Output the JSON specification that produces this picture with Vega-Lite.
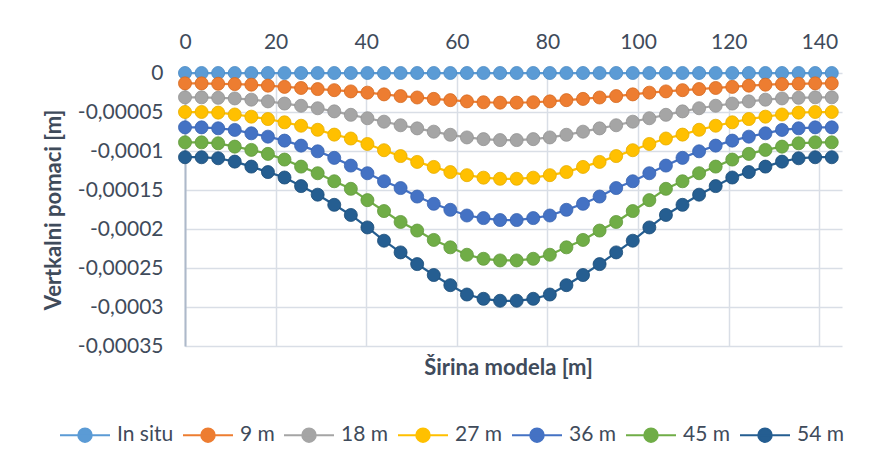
{
  "$schema": "https://vega.github.io/schema/vega-lite/v6.json",
  "width": 657,
  "height": 273,
  "autosize": {"type": "none"},
  "padding": {"left": 185, "top": 73, "right": 39, "bottom": 121},
  "background": "white",
  "config": {
    "locale": {"number": {"decimal": ",", "thousands": ".", "grouping": [3], "currency": ["", " €"], "minus": "-"}},
    "view": {"stroke": null},
    "font": "Lato"
  },
  "data": {"values": [
    {"x": 0, "In situ": 0, "9 m": -1.33e-5, "18 m": -3.12e-5, "27 m": -5.0e-5, "36 m": -6.97e-5, "45 m": -8.89e-5, "54 m": -10.8e-5},
    {"x": 3.66, "In situ": 0, "9 m": -1.33e-5, "18 m": -3.12e-5, "27 m": -5.0e-5, "36 m": -6.97e-5, "45 m": -8.89e-5, "54 m": -10.8e-5},
    {"x": 7.32, "In situ": 0, "9 m": -1.38e-5, "18 m": -3.18e-5, "27 m": -5.08e-5, "36 m": -7.09e-5, "45 m": -9.01e-5, "54 m": -10.93e-5},
    {"x": 10.98, "In situ": 0, "9 m": -1.42e-5, "18 m": -3.26e-5, "27 m": -5.32e-5, "36 m": -7.3e-5, "45 m": -9.44e-5, "54 m": -11.36e-5},
    {"x": 14.64, "In situ": 0, "9 m": -1.5e-5, "18 m": -3.42e-5, "27 m": -5.6e-5, "36 m": -7.73e-5, "45 m": -9.86e-5, "54 m": -12.0e-5},
    {"x": 18.3, "In situ": 0, "9 m": -1.62e-5, "18 m": -3.64e-5, "27 m": -5.9e-5, "36 m": -8.16e-5, "45 m": -10.37e-5, "54 m": -12.7e-5},
    {"x": 21.96, "In situ": 0, "9 m": -1.78e-5, "18 m": -3.92e-5, "27 m": -6.32e-5, "36 m": -8.67e-5, "45 m": -11.1e-5, "54 m": -13.4e-5},
    {"x": 25.62, "In situ": 0, "9 m": -1.92e-5, "18 m": -4.2e-5, "27 m": -6.76e-5, "36 m": -9.31e-5, "45 m": -12.0e-5, "54 m": -14.5e-5},
    {"x": 29.28, "In situ": 0, "9 m": -2.06e-5, "18 m": -4.52e-5, "27 m": -7.28e-5, "36 m": -10.04e-5, "45 m": -12.85e-5, "54 m": -15.6e-5},
    {"x": 32.94, "In situ": 0, "9 m": -2.2e-5, "18 m": -4.92e-5, "27 m": -7.9e-5, "36 m": -10.88e-5, "45 m": -13.88e-5, "54 m": -16.9e-5},
    {"x": 36.6, "In situ": 0, "9 m": -2.36e-5, "18 m": -5.36e-5, "27 m": -8.4e-5, "36 m": -11.87e-5, "45 m": -14.85e-5, "54 m": -18.2e-5},
    {"x": 40.26, "In situ": 0, "9 m": -2.52e-5, "18 m": -5.8e-5, "27 m": -9.1e-5, "36 m": -12.85e-5, "45 m": -16.3e-5, "54 m": -19.8e-5},
    {"x": 43.92, "In situ": 0, "9 m": -2.74e-5, "18 m": -6.24e-5, "27 m": -9.9e-5, "36 m": -13.88e-5, "45 m": -17.7e-5, "54 m": -21.5e-5},
    {"x": 47.58, "In situ": 0, "9 m": -2.96e-5, "18 m": -6.7e-5, "27 m": -10.65e-5, "36 m": -14.75e-5, "45 m": -19.1e-5, "54 m": -23.0e-5},
    {"x": 51.24, "In situ": 0, "9 m": -3.14e-5, "18 m": -7.1e-5, "27 m": -11.4e-5, "36 m": -15.84e-5, "45 m": -20.2e-5, "54 m": -24.5e-5},
    {"x": 54.9, "In situ": 0, "9 m": -3.32e-5, "18 m": -7.52e-5, "27 m": -12.04e-5, "36 m": -16.77e-5, "45 m": -21.4e-5, "54 m": -25.9e-5},
    {"x": 58.56, "In situ": 0, "9 m": -3.48e-5, "18 m": -7.92e-5, "27 m": -12.7e-5, "36 m": -17.54e-5, "45 m": -22.35e-5, "54 m": -27.2e-5},
    {"x": 62.22, "In situ": 0, "9 m": -3.64e-5, "18 m": -8.26e-5, "27 m": -13.1e-5, "36 m": -18.27e-5, "45 m": -23.3e-5, "54 m": -28.4e-5},
    {"x": 65.88, "In situ": 0, "9 m": -3.75e-5, "18 m": -8.48e-5, "27 m": -13.42e-5, "36 m": -18.6e-5, "45 m": -23.82e-5, "54 m": -28.95e-5},
    {"x": 69.54, "In situ": 0, "9 m": -3.8e-5, "18 m": -8.6e-5, "27 m": -13.56e-5, "36 m": -18.85e-5, "45 m": -24.03e-5, "54 m": -29.2e-5},
    {"x": 73.2, "In situ": 0, "9 m": -3.8e-5, "18 m": -8.6e-5, "27 m": -13.56e-5, "36 m": -18.85e-5, "45 m": -24.03e-5, "54 m": -29.2e-5},
    {"x": 76.86, "In situ": 0, "9 m": -3.75e-5, "18 m": -8.48e-5, "27 m": -13.42e-5, "36 m": -18.6e-5, "45 m": -23.82e-5, "54 m": -28.95e-5},
    {"x": 80.52, "In situ": 0, "9 m": -3.64e-5, "18 m": -8.26e-5, "27 m": -13.1e-5, "36 m": -18.27e-5, "45 m": -23.3e-5, "54 m": -28.4e-5},
    {"x": 84.18, "In situ": 0, "9 m": -3.48e-5, "18 m": -7.92e-5, "27 m": -12.7e-5, "36 m": -17.54e-5, "45 m": -22.35e-5, "54 m": -27.2e-5},
    {"x": 87.84, "In situ": 0, "9 m": -3.32e-5, "18 m": -7.52e-5, "27 m": -12.04e-5, "36 m": -16.77e-5, "45 m": -21.4e-5, "54 m": -25.9e-5},
    {"x": 91.5, "In situ": 0, "9 m": -3.14e-5, "18 m": -7.1e-5, "27 m": -11.4e-5, "36 m": -15.84e-5, "45 m": -20.2e-5, "54 m": -24.5e-5},
    {"x": 95.16, "In situ": 0, "9 m": -2.96e-5, "18 m": -6.7e-5, "27 m": -10.65e-5, "36 m": -14.75e-5, "45 m": -19.1e-5, "54 m": -23.0e-5},
    {"x": 98.82, "In situ": 0, "9 m": -2.74e-5, "18 m": -6.24e-5, "27 m": -9.9e-5, "36 m": -13.88e-5, "45 m": -17.7e-5, "54 m": -21.5e-5},
    {"x": 102.48, "In situ": 0, "9 m": -2.52e-5, "18 m": -5.8e-5, "27 m": -9.1e-5, "36 m": -12.85e-5, "45 m": -16.3e-5, "54 m": -19.8e-5},
    {"x": 106.14, "In situ": 0, "9 m": -2.36e-5, "18 m": -5.36e-5, "27 m": -8.4e-5, "36 m": -11.87e-5, "45 m": -14.85e-5, "54 m": -18.2e-5},
    {"x": 109.8, "In situ": 0, "9 m": -2.2e-5, "18 m": -4.92e-5, "27 m": -7.9e-5, "36 m": -10.88e-5, "45 m": -13.88e-5, "54 m": -16.9e-5},
    {"x": 113.46, "In situ": 0, "9 m": -2.06e-5, "18 m": -4.52e-5, "27 m": -7.28e-5, "36 m": -10.04e-5, "45 m": -12.85e-5, "54 m": -15.6e-5},
    {"x": 117.12, "In situ": 0, "9 m": -1.92e-5, "18 m": -4.2e-5, "27 m": -6.76e-5, "36 m": -9.31e-5, "45 m": -12.0e-5, "54 m": -14.5e-5},
    {"x": 120.78, "In situ": 0, "9 m": -1.78e-5, "18 m": -3.92e-5, "27 m": -6.32e-5, "36 m": -8.67e-5, "45 m": -11.1e-5, "54 m": -13.4e-5},
    {"x": 124.44, "In situ": 0, "9 m": -1.62e-5, "18 m": -3.64e-5, "27 m": -5.9e-5, "36 m": -8.16e-5, "45 m": -10.37e-5, "54 m": -12.7e-5},
    {"x": 128.1, "In situ": 0, "9 m": -1.5e-5, "18 m": -3.42e-5, "27 m": -5.6e-5, "36 m": -7.73e-5, "45 m": -9.86e-5, "54 m": -12.0e-5},
    {"x": 131.76, "In situ": 0, "9 m": -1.42e-5, "18 m": -3.26e-5, "27 m": -5.32e-5, "36 m": -7.3e-5, "45 m": -9.44e-5, "54 m": -11.36e-5},
    {"x": 135.42, "In situ": 0, "9 m": -1.38e-5, "18 m": -3.18e-5, "27 m": -5.08e-5, "36 m": -7.09e-5, "45 m": -9.01e-5, "54 m": -10.93e-5},
    {"x": 139.08, "In situ": 0, "9 m": -1.33e-5, "18 m": -3.12e-5, "27 m": -5.0e-5, "36 m": -6.97e-5, "45 m": -8.89e-5, "54 m": -10.8e-5},
    {"x": 142.74, "In situ": 0, "9 m": -1.33e-5, "18 m": -3.12e-5, "27 m": -5.0e-5, "36 m": -6.97e-5, "45 m": -8.89e-5, "54 m": -10.8e-5}
  ]},
  "transform": [{"fold": ["In situ", "9 m", "18 m", "27 m", "36 m", "45 m", "54 m"], "as": ["serija", "pomak"]}],
  "encoding": {
    "y": {
      "field": "pomak", "type": "quantitative",
      "scale": {"domain": [-0.00035, 0], "nice": false, "zero": false},
      "axis": {
        "values": [0, -0.00005, -0.0001, -0.00015, -0.0002, -0.00025, -0.0003, -0.00035],
        "format": ".5~f",
        "grid": true, "gridColor": "#D9DEE6", "gridWidth": 1.5,
        "domain": true, "domainColor": "#ADB9CA", "domainWidth": 2,
        "ticks": false, "tickSize": 0,
        "labelPadding": 22, "labelFontSize": 21, "labelColor": "#3F4B5B", "labelFont": "Lato",
        "title": "Vertkalni pomaci [m]", "titleFontSize": 22, "titleFontWeight": "bold",
        "titleColor": "#3F4B5B", "titleFont": "Lato", "titlePadding": 12
      }
    },
    "color": {
      "field": "serija", "type": "nominal",
      "scale": {
        "domain": ["In situ", "9 m", "18 m", "27 m", "36 m", "45 m", "54 m"],
        "range": ["#5B9BD5", "#ED7D31", "#A5A5A5", "#FFC000", "#4472C4", "#70AD47", "#255E91"]
      },
      "legend": {
        "orient": "none", "legendX": -126, "legendY": 336,
        "direction": "horizontal", "title": null, "padding": 0,
        "symbolType": "M-1,0H1M-0.27,0A0.27,0.27,0,1,0,0.27,0A0.27,0.27,0,1,0,-0.27,0Z",
        "symbolSize": 2500, "symbolStrokeWidth": 2,
        "labelFontSize": 21, "labelColor": "#3F4B5B", "labelFont": "Lato",
        "labelOffset": 6, "columnPadding": 5, "labelLimit": 0,
        "encode": {"symbols": {"update": {
          "fill": {"scale": "color", "field": "value"},
          "stroke": {"scale": "color", "field": "value"},
          "opacity": {"value": 1}
        }}}
      }
    }
  },
  "layer": [
    {
      "mark": {"type": "line", "strokeWidth": 2.25},
      "encoding": {
        "x": {
          "field": "x", "type": "quantitative",
          "scale": {"domain": [0, 145], "nice": false},
          "axis": {
            "orient": "top", "values": [0, 20, 40, 60, 80, 100, 120, 140], "title": null,
            "grid": true, "gridColor": "#D9DEE6", "gridWidth": 1.5,
            "domain": false, "ticks": false, "tickSize": 0, "labelFlush": false,
            "labelPadding": 21, "labelFontSize": 21, "labelColor": "#3F4B5B", "labelFont": "Lato"
          }
        }
      }
    },
    {
      "mark": {"type": "point", "filled": true, "size": 170, "opacity": 1, "strokeWidth": 0.8},
      "encoding": {
        "x": {
          "field": "x", "type": "quantitative",
          "scale": {"domain": [0, 145], "nice": false},
          "axis": {
            "orient": "bottom", "title": "Širina modela [m]", "labels": false, "ticks": false, "tickSize": 0,
            "domain": false, "grid": false,
            "titleFontSize": 22, "titleFontWeight": "bold", "titleColor": "#3F4B5B", "titleFont": "Lato",
            "titleX": 323, "titleY": 21, "titleBaseline": "middle", "titleAlign": "center"
          }
        },
        "stroke": {
          "field": "serija", "type": "nominal",
          "scale": {
            "domain": ["In situ", "9 m", "18 m", "27 m", "36 m", "45 m", "54 m"],
            "range": ["#4A8AC4", "#D66A1F", "#939393", "#E6AD00", "#3A64B0", "#62993C", "#1C4C77"]
          },
          "legend": null
        }
      }
    }
  ],
  "resolve": {"axis": {"x": "independent"}}
}
